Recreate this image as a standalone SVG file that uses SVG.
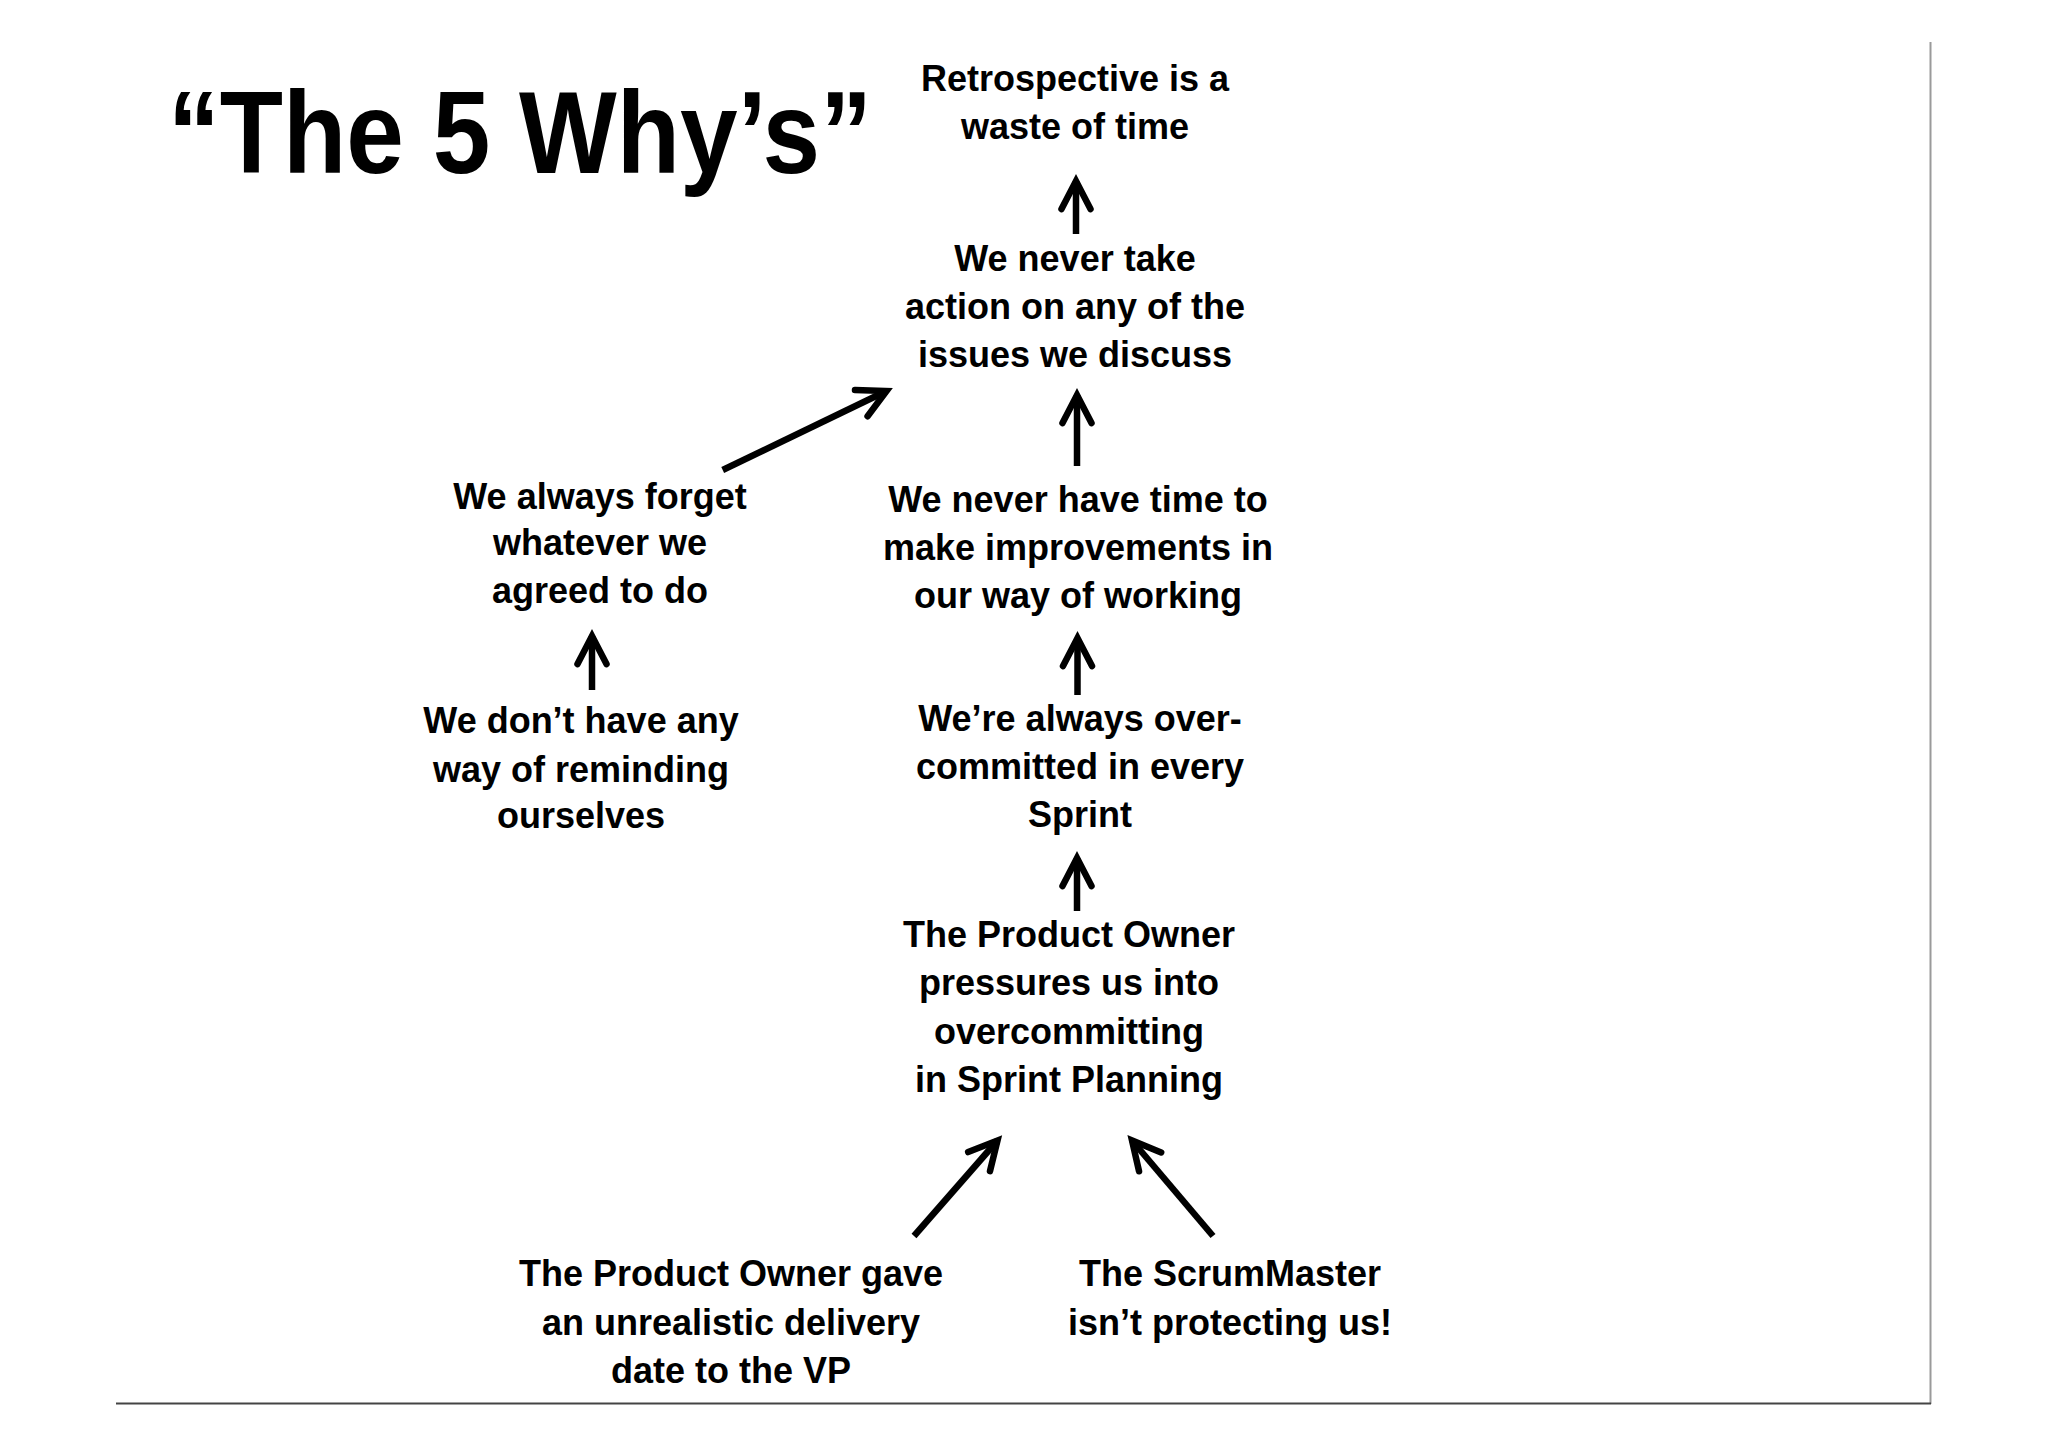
<svg xmlns="http://www.w3.org/2000/svg" width="2048" height="1447" viewBox="0 0 2048 1447">
<defs>
<style>
text{font-family:"Liberation Sans",Arial,sans-serif;font-weight:bold;fill:#000}
.n{font-size:36px;text-anchor:middle}
.title{font-size:116px}
.arr{stroke:#000;stroke-width:6.5;fill:none;stroke-linecap:butt}
.frame{fill:none;stroke-width:2}
</style>
<marker id="head" markerUnits="userSpaceOnUse" orient="auto" refX="0" refY="0" markerWidth="60" markerHeight="60" viewBox="-40 -30 60 60" overflow="visible">
<path d="M -28 -14.5 L 0 0 L -28 14.5" fill="none" stroke="#000" stroke-width="6.5" stroke-linecap="round" stroke-linejoin="miter" stroke-miterlimit="10"/>
</marker>
</defs>
<rect width="2048" height="1447" fill="#fff"/>
<g id="frame">
<line class="frame" x1="1930.5" y1="42" x2="1930.5" y2="1404" stroke="#9a9a9a"/>
<line class="frame" x1="116" y1="1403.5" x2="1931" y2="1403.5" stroke="#444"/>
</g>
<g id="title">
<text class="title" x="168" y="173" textLength="704" lengthAdjust="spacingAndGlyphs">“The 5 Why’s”</text>
</g>
<g id="connectors">
<line class="arr" x1="1076" y1="234" x2="1076" y2="181" marker-end="url(#head)"/>
<line class="arr" x1="1077" y1="466" x2="1077" y2="395" marker-end="url(#head)"/>
<line class="arr" x1="722.7" y1="470" x2="886.5" y2="391" marker-end="url(#head)"/>
<line class="arr" x1="592" y1="690" x2="592" y2="636" marker-end="url(#head)"/>
<line class="arr" x1="1077.5" y1="695" x2="1077.5" y2="638" marker-end="url(#head)"/>
<line class="arr" x1="1077" y1="911" x2="1077" y2="858" marker-end="url(#head)"/>
<line class="arr" x1="914" y1="1236" x2="997.5" y2="1140.5" marker-end="url(#head)"/>
<line class="arr" x1="1213" y1="1236" x2="1132" y2="1140.5" marker-end="url(#head)"/>
</g>
<g id="node-retro">
<text class="n" x="1075" y="91">Retrospective is a</text>
<text class="n" x="1075" y="138.5">waste of time</text>
</g>
<g id="node-action">
<text class="n" x="1075" y="271">We never take</text>
<text class="n" x="1075" y="319">action on any of the</text>
<text class="n" x="1075" y="367">issues we discuss</text>
</g>
<g id="node-forget">
<text class="n" x="600" y="508.5">We always forget</text>
<text class="n" x="600" y="555">whatever we</text>
<text class="n" x="600" y="602.5">agreed to do</text>
</g>
<g id="node-time">
<text class="n" x="1078" y="512">We never have time to</text>
<text class="n" x="1078" y="560">make improvements in</text>
<text class="n" x="1078" y="607.5">our way of working</text>
</g>
<g id="node-remind">
<text class="n" x="581" y="733">We don’t have any</text>
<text class="n" x="581" y="782">way of reminding</text>
<text class="n" x="581" y="828">ourselves</text>
</g>
<g id="node-overcommit">
<text class="n" x="1080" y="731">We’re always over-</text>
<text class="n" x="1080" y="779">committed in every</text>
<text class="n" x="1080" y="827">Sprint</text>
</g>
<g id="node-pressure">
<text class="n" x="1069" y="947">The Product Owner</text>
<text class="n" x="1069" y="995">pressures us into</text>
<text class="n" x="1069" y="1043.5">overcommitting</text>
<text class="n" x="1069" y="1092">in Sprint Planning</text>
</g>
<g id="node-po-gave">
<text class="n" x="731" y="1286">The Product Owner gave</text>
<text class="n" x="731" y="1334.5">an unrealistic delivery</text>
<text class="n" x="731" y="1383">date to the VP</text>
</g>
<g id="node-sm">
<text class="n" x="1230" y="1286">The ScrumMaster</text>
<text class="n" x="1230" y="1334.5">isn’t protecting us!</text>
</g>
</svg>
